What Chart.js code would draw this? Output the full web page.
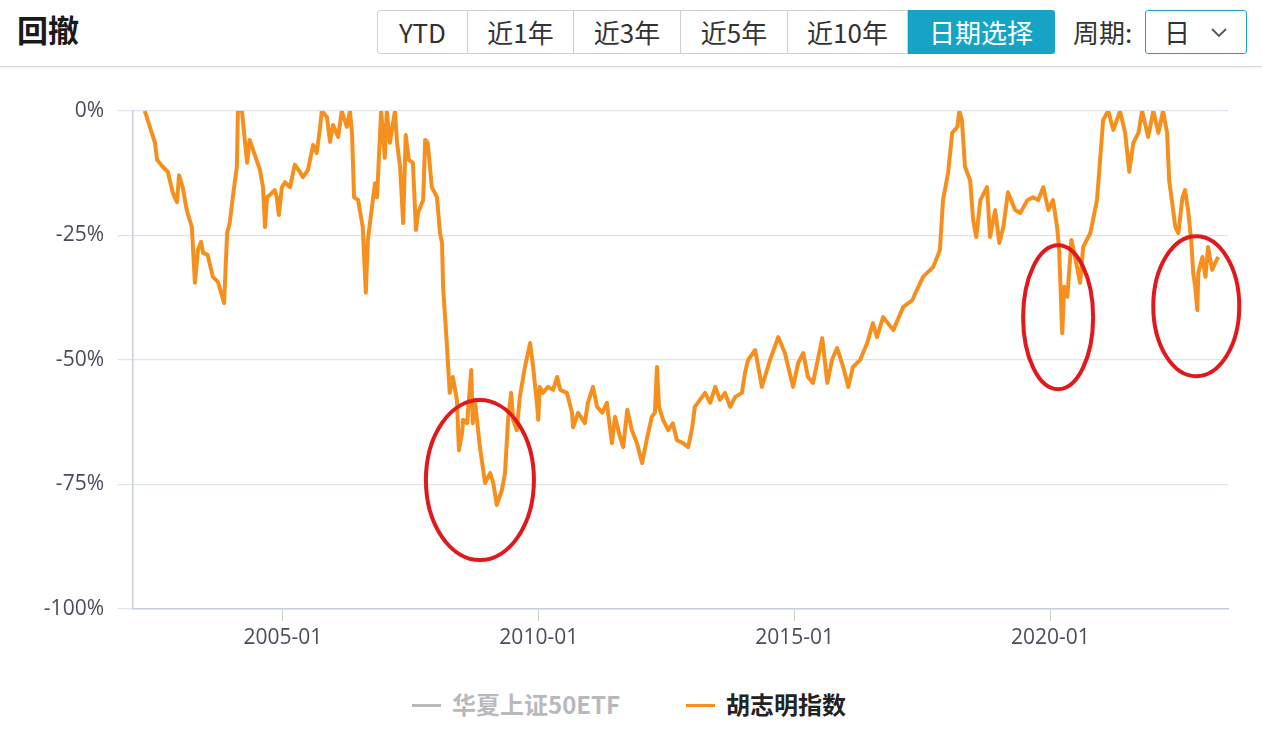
<!DOCTYPE html>
<html>
<head>
<meta charset="utf-8">
<script src="https://cdn.jsdelivr.net/npm/chart.js@4.4.0/dist/chart.umd.min.js"></script>
<style>
  html, body { margin: 0; padding: 0; background: #fff; }
  body { width: 1262px; height: 732px; position: relative; overflow: hidden;
         font-family: "Noto Sans CJK SC", "Open Sans", sans-serif; }
  .head { position: absolute; left: 0; top: 0; width: 1262px; height: 66px;
          border-bottom: 1px solid #d9d9dc; box-shadow: 0 1px 2px rgba(0,0,0,0.06); }
  .title { position: absolute; left: 17px; top: 9px; font-size: 31px; font-weight: bold; color: #1a1a1a; line-height: 40px; }
  .btns { position: absolute; left: 377px; top: 10px; height: 44px; display: flex; }
  .btns div { height: 42px; line-height: 42px; border: 1px solid #cfcfd4; border-left: none;
              font-size: 26px; color: #333; text-align: center; background: #fff; }
  .btns div:first-child { border-left: 1px solid #cfcfd4; border-radius: 3px 0 0 3px; }
  .btns .on { background: #17a3c6; color: #fff; border-color: #17a3c6; border-radius: 0 3px 3px 0; }
  .period { position: absolute; left: 1073px; top: 10px; line-height: 44px; font-size: 26px; color: #333; }
  .sel { position: absolute; left: 1145px; top: 10px; width: 100px; height: 42px; border: 1px solid #17a3c6;
         border-radius: 3px; font-size: 26px; color: #333; line-height: 42px; }
  .sel span { position: absolute; left: 18px; }
  .sel svg { position: absolute; left: 64px; top: 16px; }
  #wrap { position: absolute; left: 0; top: 66px; width: 1262px; height: 610px; }
  .legend { position: absolute; top: 688px; left: 0; width: 1262px; height: 32px; font-size: 24px; font-weight: bold; }
  .legend .item { position: absolute; top: 0; line-height: 32px; white-space: nowrap; }
  .legend .mark { display: inline-block; width: 29px; height: 3px; vertical-align: middle; margin-right: 11px; position: relative; top: -2px; }
</style>
</head>
<body>
<div class="head">
  <div class="title">回撤</div>
  <div class="btns">
    <div style="width:89px">YTD</div>
    <div style="width:105px">近1年</div>
    <div style="width:106px">近3年</div>
    <div style="width:106px">近5年</div>
    <div style="width:119px">近10年</div>
    <div class="on" style="width:146px">日期选择</div>
  </div>
  <div class="period">周期:</div>
  <div class="sel"><span>日</span>
    <svg width="18" height="12" viewBox="0 0 18 12"><path d="M2 2 L9 9 L16 2" fill="none" stroke="#555" stroke-width="1.8"/></svg>
  </div>
</div>

<div id="wrap"><canvas id="chart"></canvas></div>

<div class="legend">
  <div class="item" style="left:412px;color:#b9b9bd"><span class="mark" style="background:#b9b9bd"></span>华夏上证50ETF</div>
  <div class="item" style="left:686px;color:#222"><span class="mark" style="background:#f5901e"></span>胡志明指数</div>
</div>

<script>
// x positions are decimal years, values are drawdown in %
const dates = [
  2002.30, 2002.50, 2002.54, 2002.65, 2002.75, 2002.85, 2002.93, 2002.97, 2003.04, 2003.12,
  2003.22, 2003.28, 2003.34, 2003.40, 2003.44, 2003.53, 2003.63, 2003.73, 2003.85, 2003.91,
  2003.96, 2004.02, 2004.10, 2004.12, 2004.20, 2004.26, 2004.30, 2004.35, 2004.45, 2004.55,
  2004.61, 2004.65, 2004.69, 2004.78, 2004.84, 2004.88, 2004.92, 2004.98, 2005.04, 2005.14,
  2005.23, 2005.33, 2005.39, 2005.49, 2005.59, 2005.66, 2005.72, 2005.76, 2005.86, 2005.92,
  2005.98, 2006.08, 2006.15, 2006.25, 2006.31, 2006.35, 2006.39, 2006.47, 2006.56, 2006.62,
  2006.66, 2006.74, 2006.80, 2006.84, 2006.88, 2006.92, 2006.99, 2007.03, 2007.09, 2007.19,
  2007.23, 2007.29, 2007.35, 2007.40, 2007.46, 2007.54, 2007.60, 2007.64, 2007.74, 2007.78,
  2007.83, 2007.91, 2008.01, 2008.07, 2008.11, 2008.13, 2008.19, 2008.23, 2008.26, 2008.32,
  2008.40, 2008.44, 2008.50, 2008.52, 2008.60, 2008.68, 2008.71, 2008.75, 2008.85, 2008.95,
  2009.05, 2009.11, 2009.18, 2009.28, 2009.34, 2009.40, 2009.46, 2009.50, 2009.57, 2009.63,
  2009.73, 2009.83, 2009.89, 2009.97, 2009.99, 2010.02, 2010.08, 2010.18, 2010.28, 2010.36,
  2010.42, 2010.55, 2010.65, 2010.67, 2010.77, 2010.90, 2010.96, 2011.06, 2011.14, 2011.24,
  2011.33, 2011.43, 2011.49, 2011.59, 2011.65, 2011.73, 2011.82, 2011.92, 2012.02, 2012.12,
  2012.21, 2012.27, 2012.31, 2012.35, 2012.43, 2012.53, 2012.62, 2012.70, 2012.82, 2012.92,
  2013.00, 2013.05, 2013.15, 2013.25, 2013.35, 2013.45, 2013.54, 2013.64, 2013.74, 2013.84,
  2013.97, 2014.03, 2014.09, 2014.23, 2014.36, 2014.52, 2014.68, 2014.81, 2014.97, 2015.07,
  2015.17, 2015.26, 2015.36, 2015.54, 2015.64, 2015.73, 2015.83, 2015.95, 2016.05, 2016.14,
  2016.28, 2016.42, 2016.53, 2016.61, 2016.73, 2016.93, 2017.12, 2017.30, 2017.39, 2017.51,
  2017.71, 2017.84, 2017.90, 2018.00, 2018.08, 2018.18, 2018.22, 2018.27, 2018.33, 2018.43,
  2018.49, 2018.55, 2018.63, 2018.76, 2018.82, 2018.92, 2019.00, 2019.08, 2019.17, 2019.31,
  2019.41, 2019.55, 2019.66, 2019.76, 2019.86, 2019.96, 2020.05, 2020.13, 2020.17, 2020.23,
  2020.27, 2020.33, 2020.41, 2020.48, 2020.58, 2020.64, 2020.78, 2020.91, 2020.97, 2021.03,
  2021.13, 2021.23, 2021.36, 2021.46, 2021.54, 2021.62, 2021.72, 2021.79, 2021.91, 2022.01,
  2022.11, 2022.20, 2022.28, 2022.32, 2022.38, 2022.44, 2022.50, 2022.58, 2022.63, 2022.69,
  2022.75, 2022.79, 2022.83, 2022.87, 2022.89, 2022.97, 2023.03, 2023.08, 2023.16, 2023.22,
  2023.28
];

const drawdown = [
  0, -6.4, -9.8, -11.2, -12.2, -16.5, -18.3, -12.9, -15.3, -19.9,
  -23.3, -34.5, -27.9, -26.3, -28.5, -28.9, -33.3, -34.3, -38.6, -24.5,
  -22.5, -17.3, -11.2, 0, 0, -6.4, -10.4, -5.8, -8.8, -11.8,
  -15.3, -23.3, -17.3, -16.5, -15.9, -17.3, -20.9, -15.3, -14.3, -15.3,
  -10.8, -12.2, -13.3, -11.8, -6.8, -8.4, -3.8, 0, -1.2, -6.2,
  -2.8, -5.2, 0, -3.2, 0, -4.4, -17.3, -17.9, -23.3, -36.5,
  -25.9, -19.3, -14.5, -17.3, -8.4, 0, -9.4, 0, -6.4, 0,
  -6.4, -11.2, -22.5, -4.8, -9.8, -10.4, -23.9, -20.5, -17.9, -5.8,
  -6.4, -15.3, -17.3, -24.5, -26.5, -35.3, -44.6, -51.4, -56.6, -53.4,
  -58.0, -68.1, -64.7, -62.0, -62.7, -52.0, -62.7, -58.0, -67.5, -74.7,
  -72.7, -74.7, -79.1, -76.1, -72.7, -62.0, -56.6, -62.0, -64.1, -57.4,
  -51.4, -46.6, -51.4, -59.4, -62.0, -55.4, -56.6, -55.4, -56.0, -53.4,
  -56.0, -56.6, -60.6, -63.5, -60.6, -62.7, -58.6, -55.4, -59.4, -60.6,
  -58.6, -66.7, -61.4, -65.5, -67.5, -60.0, -64.1, -66.7, -70.7, -65.5,
  -61.4, -60.6, -51.4, -59.4, -62.0, -64.1, -62.7, -66.1, -66.7, -67.5,
  -63.5, -59.4, -58.0, -56.6, -58.6, -55.4, -58.0, -56.6, -59.4, -57.4,
  -56.6, -52.6, -50.0, -48.0, -55.4, -50.0, -45.4, -48.6, -55.4, -50.6,
  -48.6, -53.4, -54.6, -45.6, -54.6, -50.0, -47.6, -51.4, -55.4, -51.4,
  -50.0, -46.6, -42.6, -45.4, -41.4, -44.0, -39.4, -38.0, -35.9, -33.3,
  -31.3, -27.9, -17.9, -12.4, -4.4, -3.2, 0, -1.8, -11.2, -13.9,
  -21.9, -25.3, -17.9, -15.3, -25.3, -19.9, -26.5, -23.3, -16.3, -19.9,
  -20.5, -17.9, -17.3, -17.9, -15.3, -19.9, -17.9, -23.3, -27.9, -44.6,
  -35.3, -37.3, -25.9, -29.3, -34.5, -27.3, -24.5, -17.9, -9.8, -1.8,
  0, -3.8, 0, -4.4, -12.2, -6.4, -4.4, 0, -5.2, 0,
  -4.4, 0, -4.4, -13.9, -18.5, -23.3, -24.5, -17.3, -15.9, -19.9,
  -25.9, -32.5, -35.3, -40.0, -32.5, -29.3, -33.3, -27.3, -31.9, -30.5,
  -29.3
];

const yearTicks = [2005, 2010, 2015, 2020];
const valueTicks = [0, -25, -50, -75, -100];

// red circles drawn on the picture (centre in data units)
const circleYears = [2008.85, 2020.15, 2022.85];
const circleValues = [-74.1, -41.4, -39.2];

const circleRadii = [[54, 80], [35, 72], [43, 70]];

const circlePlugin = {
  id: 'circles',
  afterDatasetsDraw(chart) {
    const { ctx, scales: { x, y } } = chart;
    ctx.save();
    ctx.strokeStyle = '#e0191c';
    ctx.lineWidth = 4;
    circleYears.forEach((yr, i) => {
      const cx = x.getPixelForValue(yr);
      const cy = y.getPixelForValue(circleValues[i]);
      ctx.beginPath();
      ctx.ellipse(cx, cy, circleRadii[i][0], circleRadii[i][1], 0, 0, Math.PI * 2);
      ctx.stroke();
    });
    ctx.restore();
  }
};

const tickFont = { family: '"Open Sans", "Noto Sans CJK SC", sans-serif', size: 21 };

new Chart(document.getElementById('chart'), {
  type: 'line',
  data: {
    datasets: [{
      label: '胡志明指数',
      data: dates.map((d, i) => ({ x: d, y: drawdown[i] })),
      borderColor: '#f5901e',
      borderWidth: 4,
      borderJoinStyle: 'round',
      pointRadius: 0,
      tension: 0,
      fill: false
    }]
  },
  options: {
    responsive: true,
    maintainAspectRatio: false,
    animation: false,
    layout: { padding: { top: 45, right: 34, left: 0, bottom: 0 } },
    plugins: { legend: { display: false }, tooltip: { enabled: false } },
    scales: {
      x: {
        type: 'linear',
        min: 2002.07,
        max: 2023.47,
        afterBuildTicks: s => { s.ticks = yearTicks.map(v => ({ value: v })); },
        afterFit: s => { s.height = 67; },
        ticks: {
          font: tickFont, color: '#4b4b5c', padding: 4, maxRotation: 0,
          callback: v => v + '-01'
        },
        grid: { drawOnChartArea: false, drawTicks: true, tickLength: 12, color: '#c8cfdf' },
        border: { color: '#c8cfdf', width: 1.5 }
      },
      y: {
        min: -100,
        max: 0,
        afterBuildTicks: s => { s.ticks = valueTicks.map(v => ({ value: v })); },
        afterFit: s => { s.width = 133; },
        ticks: { font: tickFont, color: '#4b4b5c', padding: 14, callback: v => v + '%' },
        grid: { color: '#dde2ec', lineWidth: 1.2, tickLength: 15 },
        border: { color: '#c8cfdf', width: 1.5 }
      }
    }
  },
  plugins: [circlePlugin]
});
</script>
</body>
</html>
